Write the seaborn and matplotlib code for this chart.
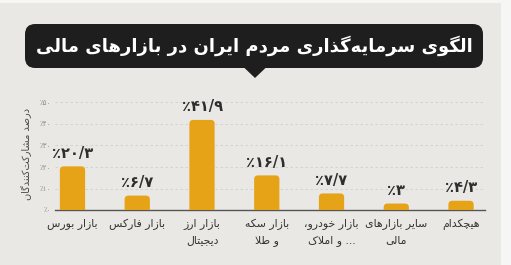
import numpy as np
import pandas as pd
import matplotlib
matplotlib.use("Agg")
import matplotlib.pyplot as plt
import seaborn as sns
from matplotlib.patches import FancyBboxPatch, Polygon, Rectangle

# ---------------- data ----------------
title = "الگوی سرمایه‌گذاری مردم ایران در بازارهای مالی"
categories = ["بازار بورس", "بازار فارکس", "بازار ارز\nدیجیتال", "بازار سکه\nو طلا",
              "بازار خودرو،\n... و املاک", "سایر بازارهای\nمالی", "هیچکدام"]
values = [20.3, 6.7, 41.9, 16.1, 7.7, 3, 4.3]
yticks = [0, 10, 20, 30, 40, 50]
ylabel = "درصد مشارکت‌کنندگان"

# ---------------- minimal Persian shaping ----------------
def _d(b):
    return (b, b + 1, b + 2, b + 3)

def _r(b):
    return (b, b + 1, None, None)

FORMS = {
    'ا': _r(0xFE8D), 'آ': _r(0xFE81), 'ب': _d(0xFE8F), 'پ': _d(0xFB56), 'ت': _d(0xFE95),
    'ث': _d(0xFE99), 'ج': _d(0xFE9D), 'چ': _d(0xFB7A), 'ح': _d(0xFEA1), 'خ': _d(0xFEA5),
    'د': _r(0xFEA9), 'ذ': _r(0xFEAB), 'ر': _r(0xFEAD), 'ز': _r(0xFEAF), 'ژ': _r(0xFB8A),
    'س': _d(0xFEB1), 'ش': _d(0xFEB5), 'ص': _d(0xFEB9), 'ض': _d(0xFEBD), 'ط': _d(0xFEC1),
    'ظ': _d(0xFEC5), 'ع': _d(0xFEC9), 'غ': _d(0xFECD), 'ف': _d(0xFED1), 'ق': _d(0xFED5),
    'ک': _d(0xFB8E), 'گ': _d(0xFB92), 'ل': _d(0xFEDD), 'م': _d(0xFEE1), 'ن': _d(0xFEE5),
    'ه': _d(0xFEE9), 'و': _r(0xFEED), 'ی': _d(0xFBFC),
}

def _joins_next(ch):
    return ch in FORMS and FORMS[ch][2] is not None

def shape(s):
    out = []
    n = len(s)
    i = 0
    while i < n:
        c = s[i]
        if c not in FORMS:
            if c != '\u200c':
                out.append(c)
            i += 1
            continue
        prev = s[i - 1] if i > 0 else None
        cp = prev is not None and _joins_next(prev)
        if c == 'ل' and i + 1 < n and s[i + 1] in 'اآ':
            if s[i + 1] == 'ا':
                out.append(chr(0xFEFC if cp else 0xFEFB))
            else:
                out.append(chr(0xFEF6 if cp else 0xFEF5))
            i += 2
            continue
        nxt = s[i + 1] if i + 1 < n else None
        cn = _joins_next(c) and nxt is not None and nxt in FORMS
        f = FORMS[c]
        idx = 3 if (cp and cn) else 1 if cp else 2 if cn else 0
        out.append(chr(f[idx]))
        i += 1
    return ''.join(out)

def rtl(s):
    return '\n'.join(shape(line)[::-1] for line in s.split('\n'))

def fa_num(v):
    txt = f"{v:g}".replace('.', '/')
    return ''.join(chr(0x06F0 + int(ch)) if ch.isdigit() else ch for ch in txt)

def pct(v):
    return '٪' + fa_num(v)

# ---------------- styling ----------------
sns.set_style("white")
plt.rcParams['font.family'] = ['DejaVu Sans']

BG = '#e9e8e5'
BAR = '#e6a317'
W, H = 511, 265

fig = plt.figure(figsize=(W / 100, H / 100), dpi=100, facecolor=BG)
# light edges of the original image
fig.patches.append(Rectangle((0, 1 - 3 / H), 1, 3 / H, transform=fig.transFigure,
                             facecolor='#f6f6f5', edgecolor='none', zorder=0))
fig.patches.append(Rectangle((1 - 10 / W, 0), 10 / W, 1, transform=fig.transFigure,
                             facecolor='#f6f6f5', edgecolor='none', zorder=0))

ax_left, ax_right = 55 / W, 485 / W
ax_bottom = 1 - 210 / H
ax_top = 1 - (210 - 52 * 2.15) / H
ax = fig.add_axes([ax_left, ax_bottom, ax_right - ax_left, ax_top - ax_bottom])
ax.set_facecolor('none')

df = pd.DataFrame({'cat': [rtl(c) for c in categories], 'val': values})
sns.barplot(data=df, x='cat', y='val', color=BAR, width=0.39, ax=ax, saturation=1)

ax.set_xlim(-0.27, 6.37)
ax.set_ylim(0, 52)
fig.canvas.draw()

# rounded top corners: replace rectangles by rounded boxes of the same geometry
p0 = ax.transData.transform((0, 0))
p1 = ax.transData.transform((1, 1))
aspect = (p1[0] - p0[0]) / (p1[1] - p0[1])
for p in list(ax.patches):
    x, w, h = p.get_x(), p.get_width(), p.get_height()
    rb = FancyBboxPatch((x, -3), w, h + 3, boxstyle="round,pad=0,rounding_size=0.06",
                        mutation_aspect=aspect, facecolor=BAR, edgecolor='none',
                        zorder=3, clip_on=True)
    ax.add_patch(rb)
    p.set_visible(False)
    ax.annotate(pct(h), (x + w / 2, h), xytext=(0, 4), textcoords='offset points',
                ha='center', va='bottom', fontsize=10.5, fontweight='bold', color='#2e2e2e')

ax.set_yticks(yticks)
ax.set_yticklabels([pct(t) for t in yticks], fontsize=5, color='#8a8a8a')
ax.yaxis.grid(True, linestyle=(0, (3, 3)), color='#cfcfcf', linewidth=0.6)
ax.set_axisbelow(True)
ax.tick_params(axis='both', length=0)
ax.tick_params(axis='y', pad=3)
ax.tick_params(axis='x', pad=6)
for lbl in ax.get_xticklabels():
    lbl.set_fontsize(7.8)
    lbl.set_color('#333333')
    lbl.set_linespacing(1.65)
ax.set_xlabel('')
ax.set_ylabel(rtl(ylabel), fontsize=7, color='#4a4a4a', labelpad=5)
for s in ['top', 'right', 'left']:
    ax.spines[s].set_visible(False)
ax.spines['bottom'].set_color('#555555')
ax.spines['bottom'].set_linewidth(1.0)

# title box with pointer
bx0, bx1 = 25 / W, 483 / W
by0, by1 = 1 - 68 / H, 1 - 24 / H
fig.patches.append(FancyBboxPatch((bx0, by0), bx1 - bx0, by1 - by0,
                                  boxstyle="round,pad=0,rounding_size=0.02",
                                  mutation_aspect=W / H,
                                  transform=fig.transFigure, facecolor='#1e1e1e',
                                  edgecolor='none', zorder=1))
fig.patches.append(Polygon([(244 / W, by0 + 0.5 / H), (266 / W, by0 + 0.5 / H), (255 / W, 1 - 78 / H)],
                           closed=True, transform=fig.transFigure, facecolor='#1e1e1e',
                           edgecolor='none', zorder=1))
fig.text(254 / W, 1 - 46 / H, rtl(title), ha='center', va='center', fontsize=13,
         fontweight='bold', color='white', zorder=2)

fig.savefig('out.png', dpi=100, facecolor=BG)
